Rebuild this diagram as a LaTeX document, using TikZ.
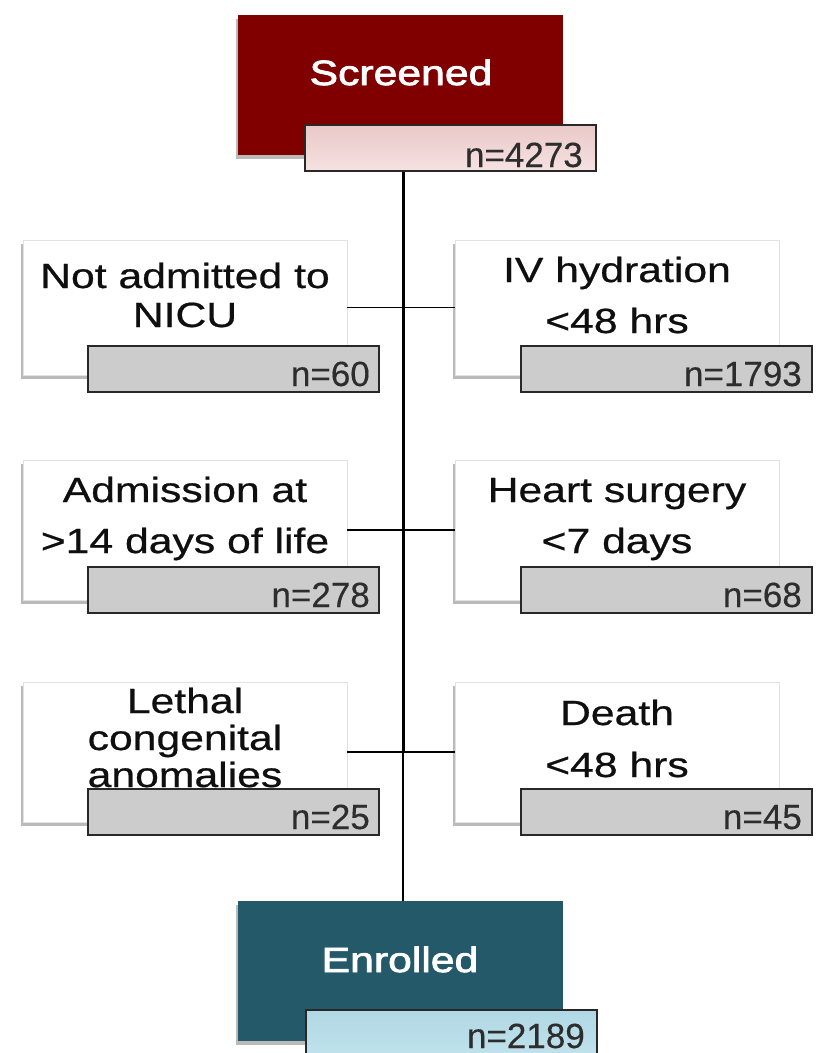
\documentclass[tikz,border=0pt]{standalone}
\usepackage{fontspec}
\setmainfont{Liberation Sans}
\newfontfamily\bodyfont[FakeStretch=1.22,FakeBold=0.6]{Liberation Sans}
\newfontfamily\nfont[FakeBold=0.3]{Liberation Sans}
\newfontfamily\titlefont[FakeStretch=1.22,FakeBold=2.4]{Liberation Sans}
\usetikzlibrary{shadows}
\definecolor{scrred}{RGB}{128,0,0}
\definecolor{enrteal}{RGB}{35,89,104}
\definecolor{pinktop}{RGB}{234,200,200}
\definecolor{pinkbot}{RGB}{246,226,226}
\definecolor{bluetop}{RGB}{176,216,228}
\definecolor{bluebot}{RGB}{192,226,236}
\definecolor{grayn}{RGB}{204,204,204}
\definecolor{edgegray}{RGB}{40,40,40}
\definecolor{shadowgray}{RGB}{140,140,140}
\definecolor{faint}{RGB}{226,226,226}
\definecolor{bodytext}{RGB}{15,15,15}
\definecolor{ntext}{RGB}{45,45,45}
\newcommand\mlines[2]{{\bodyfont\fontsize{35}{#1}\selectfont\begin{tabular}[t]{@{}c@{}}#2\end{tabular}}}
\begin{document}
\begin{tikzpicture}[x=1pt,y=-1pt,
  softshadow/.style={drop shadow={shadow xshift=-2pt,shadow yshift=-4pt,fill=shadowgray,opacity=0.6}},
  titlebox/.style={anchor=north west,inner sep=0pt,outer sep=0pt,minimum width=325pt,minimum height=140pt,softshadow},
  wbox/.style={anchor=north west,inner sep=0pt,outer sep=0pt,fill=white,draw=faint,line width=0.8pt,minimum width=324pt,minimum height=#1,softshadow},
  nbox/.style={anchor=north west,inner sep=0pt,outer sep=0pt,draw=edgegray,line width=1.6pt,minimum width=291pt,minimum height=46pt},
  graybox/.style={nbox,fill=grayn},
  nlabel/.style={anchor=base east,inner sep=0pt,text=ntext,font=\nfont\fontsize{35}{40}\selectfont},
  btext/.style={anchor=base,inner sep=0pt,text=bodytext},
  ttext/.style={anchor=base,inner sep=0pt,text=white,font=\titlefont\fontsize{35}{40}\selectfont},
  conn/.style={draw=black,line width=1.8pt},
  trunkA/.style={draw=black,line width=3pt},
  trunkB/.style={draw=black,line width=2.2pt}]
\useasboundingbox[fill=white] (0,0) rectangle (823,1053);

% Screened
\node[titlebox,fill=scrred] (scr) at (238,15) {};
\node[ttext] (scrt) at (401,85) {Screened};
\node[nbox,top color=pinktop,bottom color=pinkbot] (scrn) at (305,125) {};
\node[nlabel] (scrnt) at (583,167) {n=4273};

% Row 1
\node[wbox=135pt] (L1) at (23,240) {};
\node[btext] (L1t) at (185,288) {\mlines{39}{Not admitted to\\NICU}};
\node[graybox] (L1n) at (88,346) {};
\node[nlabel] (L1nt) at (370,386) {n=60};
\node[wbox=135pt] (R1) at (455,240) {};
\node[btext] (R1t) at (617,282) {\mlines{51}{IV hydration\\<48 hrs}};
\node[graybox] (R1n) at (521,346) {};
\node[nlabel] (R1nt) at (802,386) {n=1793};

% Row 2
\node[wbox=140pt] (L2) at (23,460) {};
\node[btext] (L2t) at (185,502) {\mlines{51}{Admission at\\>14 days of life}};
\node[graybox] (L2n) at (88,567) {};
\node[nlabel] (L2nt) at (370,607) {n=278};
\node[wbox=140pt] (R2) at (455,460) {};
\node[btext] (R2t) at (617,502) {\mlines{51}{Heart surgery\\<7 days}};
\node[graybox] (R2n) at (521,567) {};
\node[nlabel] (R2nt) at (802,607) {n=68};

% Row 3
\node[wbox=140pt] (L3) at (23,682) {};
\node[btext] (L3t) at (185,713) {\mlines{37}{Lethal\\congenital\\anomalies}};
\node[graybox] (L3n) at (88,789) {};
\node[nlabel] (L3nt) at (370,829) {n=25};
\node[wbox=140pt] (R3) at (455,682) {};
\node[btext] (R3t) at (617,725) {\mlines{52}{Death\\<48 hrs}};
\node[graybox] (R3n) at (521,789) {};
\node[nlabel] (R3nt) at (802,829) {n=45};

% Enrolled
\node[titlebox,fill=enrteal] (enr) at (238,901) {};
\node[ttext] (enrt) at (400,972) {Enrolled};
\node[nbox,top color=bluetop,bottom color=bluebot] (enrn) at (306,1010) {};
\node[nlabel] (enrnt) at (585,1048) {n=2189};

% connectors
\coordinate (trtop) at (403,172);
\coordinate (trmid) at (trtop |- L3.east);
\coordinate (trbot) at (trtop |- enr.north);
\draw[trunkA] (trtop) -- (trmid);
\draw[trunkB] (trmid) -- (trbot);
\draw[conn] (L1.east) -- (R1.west);
\draw[conn] (L2.east) -- (R2.west);
\draw[conn] (L3.east) -- (R3.west);
\end{tikzpicture}
\end{document}
